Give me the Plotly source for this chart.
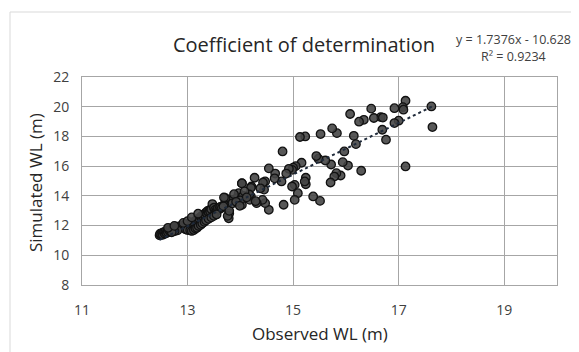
import numpy as np
import plotly.graph_objects as go

# ---- data ----
observed = [
    17.13, 17.08, 17.09, 16.92, 17.62, 17.64, 17.13, 17.00, 16.92, 16.76,
    16.69, 16.66, 16.70, 16.53, 16.48, 16.34, 16.25, 16.08, 16.15, 16.19,
    16.29, 16.04, 15.97, 15.94, 15.90, 15.82, 15.78, 15.71, 15.72, 15.83,
    15.74, 15.52, 15.61, 15.48, 15.44, 15.51, 15.38, 15.23, 15.13, 15.24,
    15.24, 15.22, 15.16, 15.09, 15.03, 15.03, 14.98, 15.05, 15.00, 14.98,
    14.92, 14.87, 14.80, 14.78, 14.82, 14.66, 14.65, 14.54, 14.54, 14.47,
    14.45, 14.47, 14.43, 14.42, 14.38, 14.31, 14.27, 14.21, 14.20, 14.18,
    14.03, 14.03, 13.97, 13.93, 13.83, 13.79, 13.78, 13.72, 13.69,
    14.20, 14.17, 14.05, 14.00, 14.29,
    12.47, 12.48, 12.50, 12.52, 12.53, 12.55, 12.57, 12.58, 12.60, 12.62,
    12.63, 12.65, 12.67, 12.68, 12.70, 12.72, 12.73, 12.75, 12.77, 12.78,
    12.80, 12.82, 12.83, 12.85, 12.87, 12.88, 12.90, 12.92, 12.93, 12.95,
    12.97, 12.98, 13.00, 13.02, 13.03, 13.05, 13.07, 13.08, 13.10, 13.12,
    13.13, 13.15, 13.17, 13.18, 13.20, 13.22, 13.23, 13.25, 13.27, 13.28,
    13.30, 13.32, 13.33, 13.35, 13.37, 13.38, 13.40, 13.42, 13.43, 13.45,
    13.47, 13.50, 13.52, 13.53, 13.55, 13.57, 13.60, 13.62, 13.65, 13.68,
    13.69, 13.76, 13.79, 13.85, 13.88, 13.92, 13.99, 14.03, 14.08, 14.12,
    12.96, 13.00, 13.05, 13.08, 13.12, 13.15, 13.18, 13.21, 13.25, 13.28,
    13.32, 13.35, 13.40, 13.45, 13.50, 13.55, 12.81, 12.75, 12.70,
    12.63, 12.75, 12.92, 13.00, 13.08, 13.20,
]
simulated = [
    20.40, 19.97, 19.80, 19.90, 20.02, 18.63, 15.98, 19.06, 18.90, 17.78,
    18.45, 19.30, 19.27, 19.24, 19.87, 19.12, 18.99, 19.51, 18.04, 17.48,
    15.69, 16.04, 16.99, 16.27, 15.37, 15.53, 15.30, 14.90, 16.11, 18.22,
    18.54, 18.16, 16.38, 16.50, 16.68, 13.66, 13.96, 18.00, 17.96, 15.22,
    14.78, 14.97, 16.23, 14.18, 13.73, 14.74, 14.63, 16.00, 15.90, 15.75,
    15.82, 15.50, 16.99, 14.97, 13.40, 15.50, 15.18, 15.85, 13.06, 14.97,
    14.42, 13.51, 14.90, 13.73, 14.51, 13.51, 15.22, 14.63, 13.96, 13.73,
    14.85, 13.40, 14.18, 13.84, 13.73, 12.83, 12.49, 13.84, 13.40,
    14.54, 14.09, 14.00, 13.70, 13.64,
    11.35, 11.45, 11.40, 11.50, 11.38, 11.55, 11.45, 11.60, 11.50, 11.65,
    11.55, 11.70, 11.60, 11.75, 11.65, 11.80, 11.70, 11.85, 11.75, 11.90,
    11.80, 11.92, 11.85, 11.95, 11.88, 11.98, 11.90, 12.02, 11.95, 12.05,
    11.98, 12.08, 12.00, 12.12, 12.05, 12.15, 12.10, 12.20, 12.15, 12.25,
    12.20, 12.32, 12.28, 12.40, 12.35, 12.50, 12.42, 12.58, 12.52, 12.68,
    12.60, 12.78, 12.70, 12.88, 12.80, 12.98, 12.90, 13.05, 12.95, 13.10,
    13.45, 13.20, 13.05, 12.88, 13.00, 13.15, 13.10, 13.25, 13.20, 13.30,
    13.89, 12.65, 12.99, 13.50, 14.11, 13.60, 13.33, 14.84, 14.30, 13.90,
    11.75, 11.70, 11.68, 11.64, 11.70, 11.80, 11.85, 11.97, 12.05, 12.15,
    12.25, 12.35, 12.45, 12.55, 12.65, 12.75, 11.68, 11.62, 11.55,
    11.85, 11.98, 12.18, 12.30, 12.55, 12.80,
]
slope = 1.7376
intercept = -10.628
r_squared = 0.9234
x_ticks = [11, 13, 15, 17, 19]
y_ticks = [8, 10, 12, 14, 16, 18, 20, 22]

obs = np.array(observed)
trend_x = np.array([obs.min(), obs.max()])
trend_y = slope * trend_x + intercept

FONT = "Open Sans"
fig = go.Figure()
fig.add_trace(go.Scatter(
    x=observed, y=simulated, mode="markers",
    marker=dict(size=8.5, color="rgba(70,70,70,0.9)",
                line=dict(color="#111111", width=1.3)),
    showlegend=False, hoverinfo="skip"))
fig.add_trace(go.Scatter(
    x=trend_x, y=trend_y, mode="lines",
    line=dict(color="#1f2a3a", width=2, dash="dot"),
    showlegend=False, hoverinfo="skip"))

axis_common = dict(showgrid=True, gridcolor="#a6a6a6", gridwidth=1,
                   zeroline=False, showline=True, linecolor="#a6a6a6",
                   linewidth=1, mirror=True, ticks="",
                   tickfont=dict(family=FONT, size=14, color="#404040"))
fig.update_xaxes(range=[11, 20], tickvals=x_ticks, ticklabelstandoff=12,
                 **axis_common)
fig.update_yaxes(range=[8, 22], tickvals=y_ticks, ticklabelstandoff=9,
                 **axis_common)

# page body adds an 8px offset; layout numbers below are in screen pixels
OFF = 8
W, H = 579 - OFF, 352 - OFF
PL, PR, PT, PB = 82, 557, 77, 285   # plot area in screen pixels
PW, PH = PR - PL, PB - PT


def px(sx):
    return (sx - PL) / PW


def py(sy):
    return (PB - sy) / PH


fig.update_layout(
    width=W, height=H,
    margin=dict(l=PL - OFF, r=W - (PR - OFF), t=PT - OFF, b=H - (PB - OFF)),
    paper_bgcolor="white", plot_bgcolor="white",
    title=dict(text="Coefficient of determination",
               font=dict(family=FONT, size=20, color="#262626"),
               x=px(304), xref="paper", xanchor="center",
               y=1 - (45 - OFF) / H, yref="container", yanchor="middle"),
    annotations=[
        dict(text="Observed WL (m)", xref="paper", yref="paper",
             x=px(320), y=py(333), showarrow=False,
             xanchor="center", yanchor="middle",
             font=dict(family=FONT, size=17, color="#262626")),
        dict(text="Simulated WL (m)", xref="paper", yref="paper",
             x=px(35), y=py(183), showarrow=False,
             textangle=-90, xanchor="center", yanchor="middle",
             font=dict(family=FONT, size=17, color="#262626")),
        dict(text=f"y = {slope}x - {abs(intercept)}", xref="paper", yref="paper",
             x=px(513), y=py(39), showarrow=False,
             xanchor="center", yanchor="middle",
             font=dict(family=FONT, size=12.5, color="#404040")),
        dict(text=f"R² = {r_squared}", xref="paper", yref="paper",
             x=px(513), y=py(57), showarrow=False,
             xanchor="center", yanchor="middle",
             font=dict(family=FONT, size=12.5, color="#404040")),
    ],
    shapes=[
        dict(type="rect", xref="paper", yref="paper",
             x0=px(10), x1=px(620), y0=py(400), y1=py(12),
             line=dict(color="#d9d9d9", width=1), fillcolor="rgba(0,0,0,0)",
             layer="below"),
    ],
)

fig.write_html("out.html")
